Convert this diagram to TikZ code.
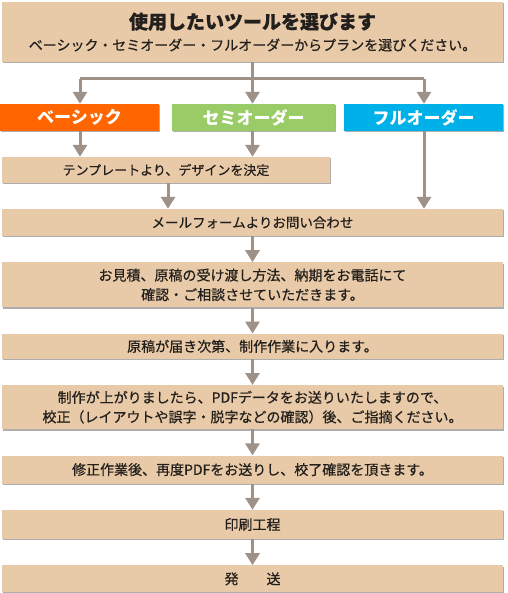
\documentclass[tikz,border=0pt]{standalone}
\usepackage{fontspec}
\setmainfont{Noto Sans CJK JP}
\newfontfamily\jpbody{Noto Sans CJK JP}[FakeBold=0.6]
\usetikzlibrary{positioning,shadows,arrows.meta}
\definecolor{boxtan}{HTML}{E8CAA8}
\definecolor{arrowgray}{HTML}{9E9288}
\definecolor{txtdark}{HTML}{231F1C}
\definecolor{basicorange}{HTML}{FF6600}
\definecolor{semigreen}{HTML}{99CC66}
\definecolor{fullblue}{HTML}{00B0E8}

\begin{document}
\begin{tikzpicture}[x=1pt,y=-1pt,
	main/.style = {fill=boxtan, text=txtdark, font=\jpbody\fontsize{14}{19.5}\selectfont, align=center, inner sep=0pt,
		minimum width=501pt, minimum height=27pt,
		drop shadow={shadow xshift=1.3pt, shadow yshift=-1.3pt, fill=black!45, opacity=.7}},
	plan/.style = {main, text=white, font=\fontsize{17}{20}\selectfont\bfseries, minimum width=159pt},
	flow/.style = {draw=arrowgray, line width=3pt, -{Triangle[width=14pt,length=12pt]}},
	node distance=26pt]
	\useasboundingbox (0,0) rectangle (507,593);
	% choose a plan
	\node[main, minimum height=60pt] (top) at (252.5,32)
		{{\fontsize{19}{22}\selectfont\bfseries 使用したいツールを選びます}\\[2pt]
		{\fontsize{14}{16}\selectfont ベーシック・セミオーダー・フルオーダーからプランを選びください。}};
	\node[plan, fill=basicorange] (basic) at (79.5,117.5) {ベーシック};
	\node[plan, fill=semigreen, minimum width=163pt] (semi) at (253.5,117.5) {セミオーダー};
	\node[plan, fill=fullblue] (full) at (423.5,117.5) {フルオーダー};
	\node[main, font=\jpbody\fontsize{13}{16}\selectfont, minimum width=328pt, minimum height=26pt] (templ) at (166,170)
		{テンプレートより、デザインを決定};
	% steps
	\node[main, font=\jpbody\fontsize{13.5}{16}\selectfont] (mail) at (252.5,222.5) {メールフォームよりお問い合わせ};
	\node[main, minimum height=45pt] (quote) [below=of mail]
		{お見積、原稿の受け渡し方法、納期をお電話にて\\確認・ご相談させていただきます。};
	\node[main, minimum height=25pt] (genko) [below=of quote] {原稿が届き次第、制作作業に入ります。};
	\node[main, minimum height=44pt] (seisaku) [below=of genko]
		{制作が上がりましたら、PDFデータをお送りいたしますので、\\校正（レイアウトや誤字・脱字などの確認）後、ご指摘ください。};
	\node[main, minimum height=28pt] (shusei) [below=of seisaku] {修正作業後、再度PDFをお送りし、校了確認を頂きます。};
	\node[main, minimum height=29pt] (insatsu) [below=of shusei] {印刷工程};
	\node[main] (hasso) [below=of insatsu] {発　　送};
	\coordinate (fork) at (252.5,79);
	\coordinate (forkL) at (80,79);
	\coordinate (forkR) at (424,79);
	\coordinate (forkT) at (168,79);
	\draw[draw=arrowgray, line width=3pt] (top.south -| fork) -- (fork);
	\draw[draw=arrowgray, line width=3pt] (forkL) -- (forkR);
	\draw[flow] (forkL) -- (forkL |- basic.north);
	\draw[flow] (fork) -- (fork |- semi.north);
	\draw[flow] (forkR) -- (forkR |- full.north);
	\draw[flow] (basic.south -| forkL) -- (forkL |- templ.north);
	\draw[flow] (semi.south -| fork) -- (fork |- templ.north);
	\draw[flow] (full.south -| forkR) -- (forkR |- mail.north);
	\draw[flow] (templ.south -| forkT) -- (forkT |- mail.north);
	\draw[flow] (mail) -- (quote);
	\draw[flow] (quote) -- (genko);
	\draw[flow] (genko) -- (seisaku);
	\draw[flow] (seisaku) -- (shusei);
	\draw[flow] (shusei) -- (insatsu);
	\draw[flow] (insatsu) -- (hasso);
\end{tikzpicture}
\end{document}
